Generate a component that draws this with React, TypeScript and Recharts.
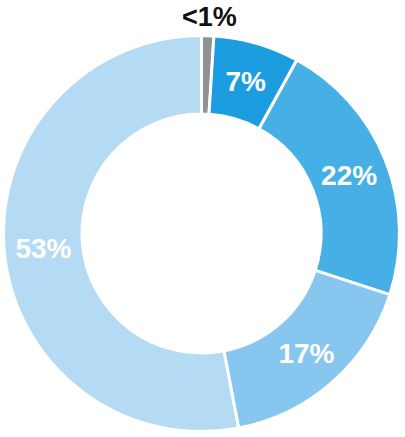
import React from 'react';
import { PieChart, Pie, Cell } from 'recharts';

// Share of each group, clockwise from 12 o'clock
const labels = ['<1%', '7%', '22%', '17%', '53%'];
const values = [1, 7, 22, 17, 53];
const colors = ['#909294', '#1b9de0', '#46b0e6', '#87c6ee', '#b4dbf3'];

const data = labels.map((label, i) => ({ label, value: values[i] }));

const RAD = Math.PI / 180;

const renderLabel = (props: any) => {
  const { cx, cy, midAngle, innerRadius, outerRadius, index } = props;
  // the tiny slice gets its label outside the ring, in black
  const small = values[index] < 2;
  const r = small ? outerRadius + 20 : (innerRadius + outerRadius) / 2;
  const x = cx + r * Math.cos(-midAngle * RAD);
  const y = cy + r * Math.sin(-midAngle * RAD);
  return (
    <text
      x={small ? x + 1 : x}
      y={y + 10}
      textAnchor="middle"
      fill={small ? '#111111' : '#ffffff'}
      fontFamily="'Liberation Sans', Arial, sans-serif"
      fontWeight="bold"
      fontSize={small ? 27 : 28}
    >
      {labels[index]}
    </text>
  );
};

export default function App() {
  return (
    <div style={{ position: 'absolute', left: 0, top: 0, background: '#ffffff' }}>
      <PieChart width={405} height={437} margin={{ top: 0, right: 0, bottom: 0, left: 0 }}>
        <Pie
          data={data}
          dataKey="value"
          nameKey="label"
          cx={201.5}
          cy={233.5}
          innerRadius={119.5}
          outerRadius={198}
          startAngle={90}
          endAngle={-270}
          stroke="#ffffff"
          strokeWidth={3}
          label={renderLabel}
          labelLine={false}
          isAnimationActive={false}
        >
          {data.map((d, i) => (
            <Cell key={d.label} fill={colors[i]} />
          ))}
        </Pie>
      </PieChart>
    </div>
  );
}
